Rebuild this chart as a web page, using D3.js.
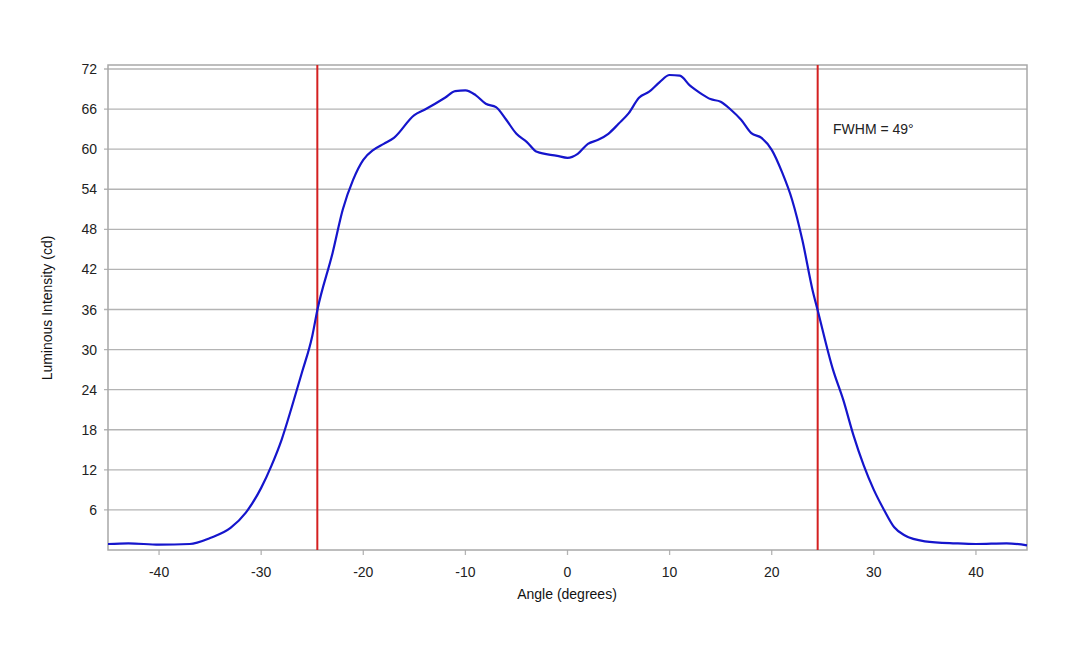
<!DOCTYPE html><html><head><meta charset="utf-8">
<script src="https://cdn.jsdelivr.net/npm/d3@7"></script>
<style>body{margin:0;background:#fff}text{font-family:"Liberation Sans",Arial,sans-serif}</style></head><body>
<svg id="c" width="1080" height="648"></svg>
<script>
const angles=[-45,-43,-40,-37,-35,-33,-31.5,-30,-29,-28,-27,-26,-25,-24.5,-23,-22,-21,-20,-19,-18,-17,-15,-14,-12,-11,-10,-9,-8,-7,-6,-5,-4,-3,-1,0,1,2,3,4,5,6,7,8,9,10,11,12,13,14,15,16,17,18,19,20,21,22,23,24,24.5,26,27,28,29,30,31,32,33,35,38,40,43,45];
const intensity=[0.9,1,0.8,0.9,1.8,3.3,5.6,9.3,12.6,16.5,21.4,26.6,32,35.9,44.5,51,55.4,58.4,59.9,60.8,61.7,65.1,65.9,67.7,68.7,68.8,68.1,66.8,66.3,64.4,62.3,61.1,59.6,59,58.7,59.3,60.8,61.4,62.3,63.8,65.4,67.7,68.6,70,71.1,71,69.5,68.4,67.5,67.1,65.9,64.4,62.4,61.7,59.9,56.6,52.4,46.4,38.9,35.9,27,22.5,17.2,12.7,9,6,3.4,2.2,1.3,1,0.9,1,0.7];
const yTicks=[6,12,18,24,30,36,42,48,54,60,66,72];
const xTicks=[-40,-30,-20,-10,0,10,20,30,40];
const fwhmLines=[-24.5,24.5];
const note="FWHM = 49°";
const svg=d3.select("#c");
const x=d3.scaleLinear().domain([-45,45]).range([108,1027]);
const y=d3.scaleLinear().domain([0,72.6]).range([550,65]);
const g=svg.append("g");
g.selectAll(".gl").data(yTicks).join("line").attr("x1",104).attr("x2",1027)
 .attr("y1",d=>y(d)).attr("y2",d=>y(d)).attr("stroke","#b4b4b4").attr("stroke-width",1.3);
g.selectAll(".yt").data(yTicks).join("text").attr("x",97).attr("y",d=>y(d)+5)
 .attr("text-anchor","end").attr("font-size",14).attr("fill","#222").text(d=>d);
g.selectAll(".xt").data(xTicks).join("line").attr("x1",d=>x(d)).attr("x2",d=>x(d))
 .attr("y1",550).attr("y2",555).attr("stroke","#b4b4b4").attr("stroke-width",1.3);
g.selectAll(".xl").data(xTicks).join("text").attr("x",d=>x(d)).attr("y",577)
 .attr("text-anchor","middle").attr("font-size",14).attr("fill","#222").text(d=>d);
g.append("rect").attr("x",108).attr("y",65).attr("width",919).attr("height",485)
 .attr("fill","none").attr("stroke","#a8a8a8").attr("stroke-width",1.5);
g.selectAll(".fl").data(fwhmLines).join("line").attr("x1",d=>x(d)).attr("x2",d=>x(d))
 .attr("y1",65).attr("y2",550).attr("stroke","#d42020").attr("stroke-width",2);
const data=angles.map((a,i)=>[a,intensity[i]]);
g.append("path").datum(data).attr("fill","none").attr("stroke","#1515cc").attr("stroke-width",2.2)
 .attr("d",d3.line().x(d=>x(d[0])).y(d=>y(d[1])).curve(d3.curveMonotoneX));
g.append("text").attr("x",833).attr("y",134).attr("font-size",14).attr("fill","#222").text(note);
g.append("text").attr("x",567).attr("y",599).attr("text-anchor","middle").attr("font-size",14).attr("fill","#111").text("Angle (degrees)");
g.append("text").attr("transform","translate(52,308) rotate(-90)").attr("text-anchor","middle").attr("font-size",14).attr("fill","#111").text("Luminous Intensity (cd)");
</script></body></html>
